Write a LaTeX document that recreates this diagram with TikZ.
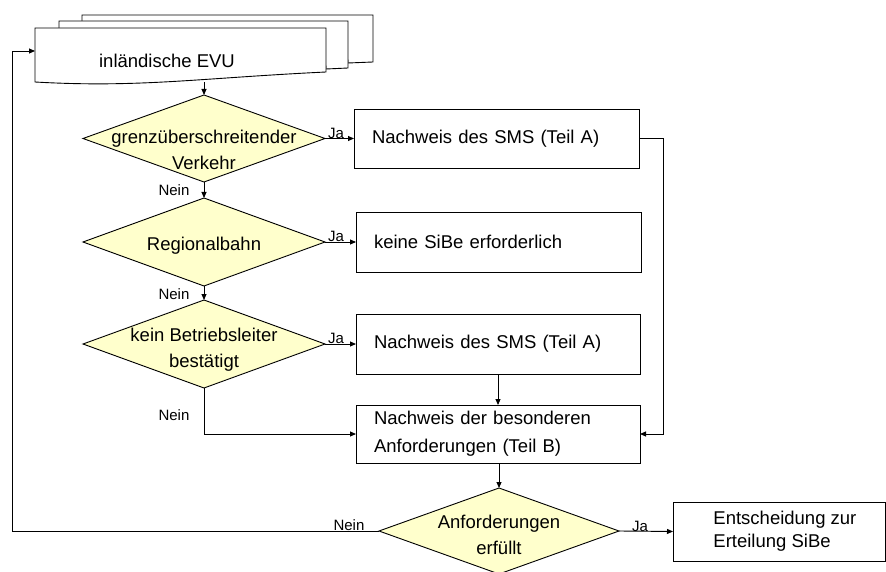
\documentclass[tikz,border=0pt]{standalone}
\usepackage{fontspec}
\setmainfont{Liberation Sans}
\usetikzlibrary{shapes.geometric,arrows.meta,calc}
\definecolor{dfill}{HTML}{FFFFCC}
\begin{document}
\begin{tikzpicture}[x=1pt,y=-1pt,line width=0.9pt,
  every node/.style={font=\fontsize{18.5}{26}\selectfont},
  dec/.style={shape=diamond, draw, fill=dfill, inner sep=0pt, outer sep=0pt},
  box/.style={draw, rectangle, inner ysep=0pt, inner xsep=18pt, outer sep=0pt, align=left, text width=#1},
  txt/.style={inner sep=0pt, align=center},
  lbl/.style={font=\fontsize{15}{16}\selectfont, inner sep=0pt},
  arr/.style={-{Triangle[length=6pt,width=5pt]}},
  doc/.style={draw, fill=white}
]
\useasboundingbox (0,0) rectangle (886,572);

% multi-document
\path[doc] (82,15) -- (373,15) -- (373,62) -- (348,63) -- (348,60) -- (82,60) -- cycle;
\path[doc] (59,21) -- (348,21) -- (348,68) -- (326,69) -- (326,66) -- (59,66) -- cycle;
\path[doc] (35,28) -- (326,28) -- (326,72) .. controls (200,78) and (140,88) .. (35,82) -- cycle;
\node[inner sep=0pt, outer sep=0pt, minimum width=291pt, minimum height=54pt] (evu) at (180.5,55) {};
\node[txt] (evutxt) at (167,61) {inländische EVU};
\coordinate (evuin) at (35,51);

% decisions
\node[dec, minimum width=242pt, minimum height=87pt] (d1) at (204,138.5) {};
\node[txt] (t1) at (204,150) {grenzüberschreitender\\Verkehr};
\node[dec, minimum width=242pt, minimum height=88pt] (d2) at (204,242) {};
\node[txt] (t2) at (204,246) {Regionalbahn};
\node[dec, minimum width=242pt, minimum height=88pt] (d3) at (204,344) {};
\node[txt] (t3) at (204,350) {kein Betriebsleiter\\bestätigt};
\node[dec, minimum width=240pt, minimum height=86pt] (d4) at (499,531) {};
\node[txt] (t4) at (499,535) {Anforderungen\\erfüllt};

% boxes
\node[box=249pt, minimum height=59pt] (b1) at (496.5,138.5) {Nachweis des SMS (Teil A)};
\node[box=249pt, minimum height=60pt] (b2) at (498.5,242) {keine SiBe erforderlich};
\node[box=248pt, minimum height=60pt] (b3) at (498,344) {Nachweis des SMS (Teil A)};
\node[box=248pt, minimum height=58pt] (b4) at (498,434) {Nachweis der besonderen\\[2pt]Anforderungen (Teil B)};
\node[draw, rectangle, inner sep=0pt, outer sep=0pt, minimum width=212pt, minimum height=59pt] (b5) at (779,531.5) {};
\node[inner sep=0pt, anchor=west, align=left, font=\fontsize{18.5}{23}\selectfont] (b5t) at (713,531) {Entscheidung zur\\Erteilung SiBe};

% connectors
\draw[arr] (d1.north |- evu.south) -- (d1.north);
\draw[arr] (d1.south) -- (d2.north);
\draw[arr] (d2.south) -- (d3.north);
\draw[arr] (d1.east) -- (b1.west);
\draw[arr] (d2.east) -- (b2.west);
\draw[arr] (d3.east) -- (b3.west);
\draw[arr] (d3.south) |- (b4.west);
\draw[arr] (b3.south) -- (b3.south |- b4.north);
\draw[arr] (b1.east) -- ++(24,0) |- (b4.east);
\draw[arr] (b4.south -| d4.north) -- (d4.north);
\draw[arr] (d4.east) -- (b5.west);
\draw[arr] (d4.west) -- (12,531) |- (evuin);

% labels
\node[lbl] (n1) at (174,190) {Nein};
\node[lbl] (n2) at (174,294) {Nein};
\node[lbl] (n3) at (174,415) {Nein};
\node[lbl] (n4) at (349,525) {Nein};
\node[lbl] (j1) at (336,133) {Ja};
\node[lbl] (j2) at (336,236) {Ja};
\node[lbl] (j3) at (336,338) {Ja};
\node[lbl] (j4) at (640,526) {Ja};
\end{tikzpicture}
\end{document}
